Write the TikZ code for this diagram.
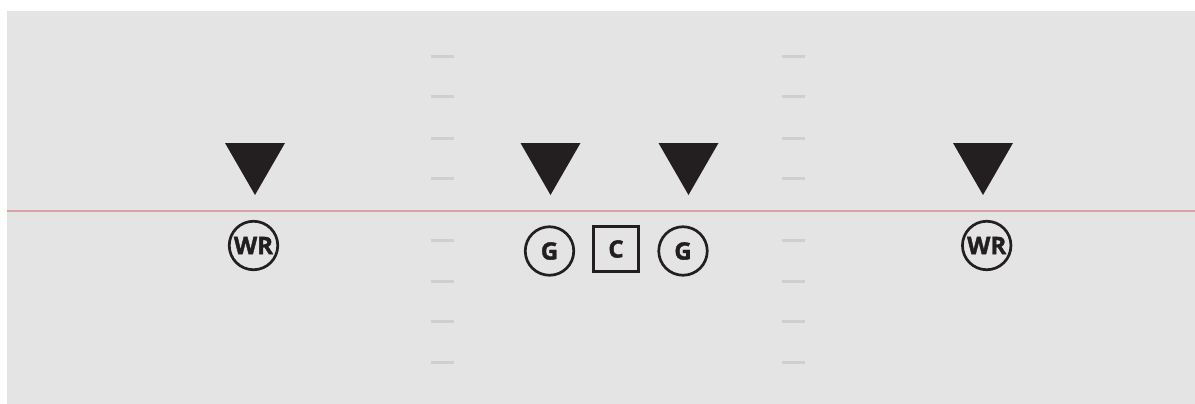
\documentclass[tikz,border=0pt]{standalone}
\usepackage{fontspec}
\setmainfont{Open Sans}
\newfontfamily\playerfont[FakeBold=1.6]{Open Sans}
\definecolor{field}{HTML}{E4E4E4}
\definecolor{hash}{HTML}{CFCFCF}
\definecolor{los}{HTML}{D9A3A5}
\definecolor{ink}{HTML}{231F20}
\begin{document}
\begin{tikzpicture}[x=1pt,y=-1pt,
  defender/.style={fill=ink,draw=none},
  player/.style={circle,draw=ink,line width=2.7pt,minimum size=48.5pt,inner sep=0pt,
    font=\playerfont\fontsize{24}{24}\selectfont\bfseries,text=ink},
  centre/.style={rectangle,draw=ink,line width=2.7pt,minimum size=45.5pt,inner sep=0pt,
    font=\playerfont\fontsize{24}{24}\selectfont\bfseries,text=ink},
  hashmark/.style={draw=hash,line width=3pt}]
\useasboundingbox (0,0) rectangle (1195,404);
\fill[white] (0,0) rectangle (1195,404);
\fill[field] (7,11) rectangle (1195,404);
% hash marks
\foreach \yy in {57,97,138,178,240,281,321,362}{
  \draw[hashmark] (431,\yy) -- (454,\yy);
  \draw[hashmark] (782,\yy) -- (805,\yy);
}
% line of scrimmage
\draw[los,line width=2pt] (7,211) -- (1195,211);
% defenders
\foreach \cx/\nm in {255/d1,550.5/d2,688.5/d3,983/d4}{
  \fill[defender] (\cx-30,143) -- (\cx+30,143) -- (\cx,195) -- cycle;
  \coordinate (\nm) at (\cx,160);
}
% offense
\node[player] (wrl) at (253.5,245.5) {WR};
\node[player] (gl) at (549.5,251) {G};
\node[centre] (c) at (616,249) {C};
\node[player] (gr) at (683,251) {G};
\node[player] (wrr) at (986.7,245.5) {WR};
\end{tikzpicture}
\end{document}
